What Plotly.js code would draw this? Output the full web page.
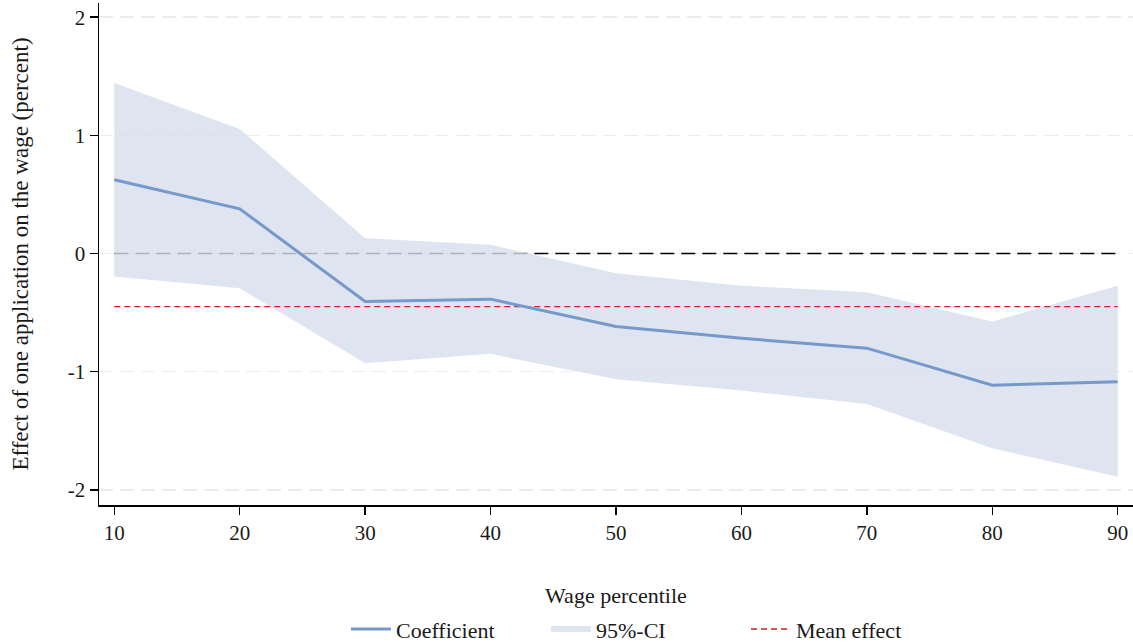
<!DOCTYPE html>
<html>
<head>
<meta charset="utf-8">
<script src="https://cdn.plot.ly/plotly-3.0.1.min.js"></script>
<style>
  html, body { margin: 0; padding: 0; background: #fff; }
  #chart { width: 1133px; height: 644px; }
</style>
</head>
<body>
<div id="chart"></div>
<script>
// Wage percentiles and estimated effect of one application on the wage (percent)
const percentiles = [10, 20, 30, 40, 50, 60, 70, 80, 90];
const coefficient = [0.624, 0.378, -0.406, -0.386, -0.618, -0.717, -0.801, -1.115, -1.084];
const ciUpper = [1.443, 1.053, 0.130, 0.074, -0.166, -0.273, -0.327, -0.576, -0.273];
const ciLower = [-0.195, -0.293, -0.928, -0.849, -1.064, -1.160, -1.273, -1.648, -1.889];
const meanEffect = -0.449;
const yTicks = [-2, -1, 0, 1, 2];

const FONT = 'Liberation Serif';
const TEXT = '#1a1a1a';

// closed polygon for the confidence band
const bandX = percentiles.concat(percentiles.slice().reverse());
const bandY = ciUpper.concat(ciLower.slice().reverse());

const first = percentiles[0];
const last = percentiles[percentiles.length - 1];

const traces = [
  {
    // reference line at zero, beneath the band
    x: [first, last], y: [0, 0],
    mode: 'lines', showlegend: false, hoverinfo: 'skip',
    line: { color: '#000000', width: 1.6, dash: '14px,7px' }
  },
  {
    x: bandX, y: bandY,
    fill: 'toself', mode: 'none', name: '95%-CI', legendrank: 2,
    fillcolor: 'rgba(214,223,237,0.8)', hoverinfo: 'skip'
  },
  {
    x: [first, last], y: [meanEffect, meanEffect],
    mode: 'lines', name: 'Mean effect', legendrank: 3,
    line: { color: '#cc1f1f', width: 1.4, dash: '6px,4px' }
  },
  {
    x: percentiles, y: coefficient,
    mode: 'lines', name: 'Coefficient', legendrank: 1,
    line: { color: '#7699c9', width: 3 }
  }
];

const layout = {
  width: 1133, height: 644,
  margin: { l: 99, r: 0, t: 3, b: 139 },
  paper_bgcolor: '#ffffff', plot_bgcolor: '#ffffff',
  font: { family: FONT, size: 21, color: TEXT },
  showlegend: true,
  legend: {
    orientation: 'h',
    xref: 'paper', x: 0.529, xanchor: 'center',
    yref: 'container', y: 0.023, yanchor: 'middle',
    font: { family: FONT, size: 22, color: TEXT },
    traceorder: 'normal', itemwidth: 40,
    entrywidth: 145, entrywidthmode: 'pixels'
  },
  xaxis: {
    range: [8.78, 91.22],
    tickvals: percentiles, ticktext: percentiles.map(String),
    ticks: 'outside', ticklen: 8, tickwidth: 1.4, tickcolor: '#000',
    showline: true, linecolor: '#000', linewidth: 1.5,
    showgrid: false, zeroline: false, automargin: false,
    tickfont: { family: FONT, size: 21, color: TEXT },
    title: { text: 'Wage percentile', standoff: 58, font: { family: FONT, size: 22, color: TEXT } }
  },
  yaxis: {
    range: [-2.128, 2.12],
    tickvals: yTicks, ticktext: yTicks.map(String),
    ticks: 'outside', ticklen: 8, tickwidth: 1.4, tickcolor: '#000',
    showline: true, linecolor: '#000', linewidth: 1.5,
    showgrid: true, gridcolor: '#ececec', gridwidth: 1.4, griddash: '14px,7px',
    zeroline: false, automargin: false,
    tickfont: { family: FONT, size: 21, color: TEXT },
    title: { text: 'Effect of one application on the wage (percent)', standoff: 32, font: { family: FONT, size: 23, color: TEXT } }
  }
};

Plotly.newPlot('chart', traces, layout, { displayModeBar: false, staticPlot: true });
</script>
</body>
</html>
